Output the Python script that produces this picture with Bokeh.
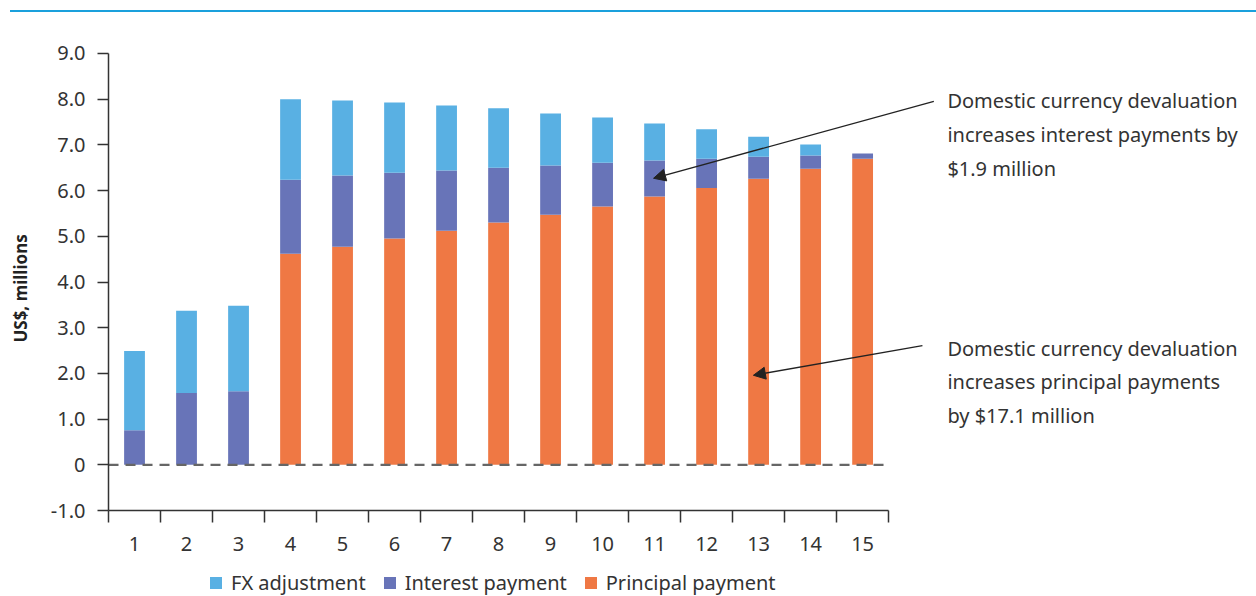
import numpy as np
from bokeh.plotting import figure
from bokeh.models import (Range1d, FixedTicker, Legend, LegendItem, Arrow,
                          NormalHead, Label, Div)
from bokeh.layouts import column
from bokeh.embed import file_html
from bokeh.resources import INLINE

# ---------------- data ----------------
years = [str(i) for i in range(1, 16)]
principal = [0, 0, 0, 4.62, 4.77, 4.95, 5.12, 5.30, 5.47, 5.65, 5.87, 6.06, 6.26, 6.48, 6.70]
interest = [0.76, 1.57, 1.61, 1.62, 1.56, 1.44, 1.32, 1.20, 1.08, 0.96, 0.79, 0.64, 0.48, 0.29, 0.11]
fx_adjust = [1.73, 1.80, 1.87, 1.76, 1.64, 1.54, 1.42, 1.30, 1.14, 0.99, 0.81, 0.64, 0.44, 0.24, 0.0]
series_names = ["FX adjustment", "Interest payment", "Principal payment"]
y_ticks = [-1, 0, 1, 2, 3, 4, 5, 6, 7, 8, 9]
y_tick_labels = ["-1.0", "0", "1.0", "2.0", "3.0", "4.0", "5.0", "6.0", "7.0", "8.0", "9.0"]
y_title = "US$, millions"
note_interest = "Domestic currency devaluation\nincreases interest payments by\n$1.9 million"
note_principal = "Domestic currency devaluation\nincreases principal payments\nby $17.1 million"

# ---------------- styles ----------------
FONT = "Noto Sans"
TXT = "#333333"
C_FX = "#59b0e3"
C_INT = "#6874b8"
C_PRI = "#ef7844"

n = len(years)
centers = (np.arange(n) + 0.5).tolist()
bounds = list(range(n + 1))
y_lo, y_hi = y_ticks[0], y_ticks[-1]

# frame covers the whole canvas; axes are pinned inside it
p = figure(width=1248, height=584, x_range=Range1d(-2.077, 21.92), y_range=Range1d(-2.88, 9.897),
           output_backend="svg", toolbar_location=None,
           min_border_left=0, min_border_right=0, min_border_top=0, min_border_bottom=0)
p.xgrid.visible = False
p.ygrid.visible = False
p.outline_line_color = None
p.background_fill_color = "white"
p.border_fill_color = "white"

src = dict(x=centers, principal=principal, interest=interest, fx=fx_adjust)
rs = p.vbar_stack(["principal", "interest", "fx"], x="x", width=0.4, source=src,
                  color=[C_PRI, C_INT, C_FX], line_color=None)

p.line(x=[0, n], y=[0, 0], line_dash="10 7", line_color="#666666", line_width=2.2)

# x axis (fixed at y = -1)
xa = p.xaxis[0]
xa.fixed_location = y_lo
xa.bounds = (0, n)
xa.ticker = FixedTicker(ticks=centers, minor_ticks=bounds)
xa.major_label_overrides = {c: y for c, y in zip(centers, years)}
xa.major_tick_out = 0
xa.major_tick_in = 0
xa.minor_tick_out = 12
xa.minor_tick_in = 0
xa.minor_tick_line_color = TXT
xa.minor_tick_line_width = 1.5
xa.axis_line_color = TXT
xa.axis_line_width = 1.5
xa.major_label_standoff = 14
xa.major_label_text_font = FONT
xa.major_label_text_font_size = "20px"
xa.major_label_text_color = TXT

# y axis (fixed at x = 0)
ya = p.yaxis[0]
ya.fixed_location = 0
ya.bounds = (y_lo, y_hi)
ya.ticker = FixedTicker(ticks=y_ticks, minor_ticks=[])
ya.major_label_overrides = {t: l for t, l in zip(y_ticks, y_tick_labels)}
ya.major_tick_out = 11
ya.major_tick_in = 0
ya.major_tick_line_color = TXT
ya.major_tick_line_width = 1.5
ya.axis_line_color = TXT
ya.axis_line_width = 1.5
ya.major_label_standoff = 12
ya.major_label_text_font = FONT
ya.major_label_text_font_size = "20px"
ya.major_label_text_color = TXT

p.add_layout(Label(x=-1.69, y=3.86, text=y_title, angle=np.pi / 2, text_font=FONT,
                   text_font_size="17px", text_font_style="bold", text_color="#222222",
                   text_align="center", text_baseline="middle"))

# legend under the x axis
items = [LegendItem(label=series_names[0], renderers=[rs[2]]),
         LegendItem(label=series_names[1], renderers=[rs[1]]),
         LegendItem(label=series_names[2], renderers=[rs[0]])]
leg = Legend(items=items, orientation="horizontal", location=(208, 0),
             label_text_font=FONT, label_text_font_size="20px", label_text_color=TXT,
             glyph_width=15, glyph_height=15, label_standoff=8, spacing=16,
             padding=0, margin=0, border_line_color=None, background_fill_alpha=0)
p.add_layout(leg, "center")

# annotations
p.add_layout(Arrow(end=NormalHead(size=12, fill_color="#222222", line_color="#222222"),
                   x_start=15.87, y_start=7.95, x_end=10.48, y_end=6.27,
                   line_color="#222222", line_width=1.3))
p.add_layout(Arrow(end=NormalHead(size=12, fill_color="#222222", line_color="#222222"),
                   x_start=15.65, y_start=2.61, x_end=12.4, y_end=1.96,
                   line_color="#222222", line_width=1.3))
p.add_layout(Label(x=16.13, y=8.26, text=note_interest, text_font=FONT,
                   text_font_size="20px", text_color=TXT, text_baseline="top",
                   text_line_height=1.25))
p.add_layout(Label(x=16.13, y=2.85, text=note_principal, text_font=FONT,
                   text_font_size="20px", text_color=TXT, text_baseline="top",
                   text_line_height=1.25))

topline = Div(text="", width=1246, height=2, margin=(10, 0, 0, 10),
              styles={"background-color": "#1aa0dc"})

layout = column(topline, p, spacing=0)
open("out.html", "w").write(file_html(layout, INLINE))
